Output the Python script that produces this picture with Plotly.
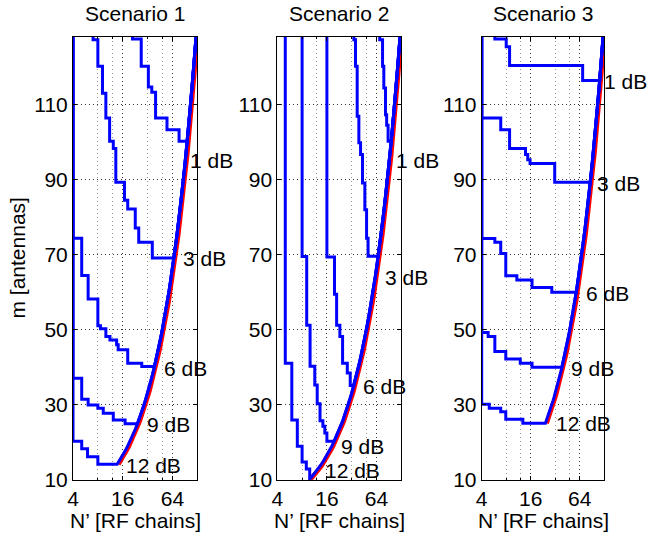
import math
import plotly.graph_objects as go

# ---------------- data ----------------
SCENARIOS = ["Scenario 1", "Scenario 2", "Scenario 3"]
LEVELS = ["1 dB", "3 dB", "6 dB", "9 dB", "12 dB"]
X_TICKS = [4, 16, 64]
X_MINOR = [8, 12, 32, 48]
Y_TICKS = [10, 30, 50, 70, 90, 110]
M_MAX = 128

# feasibility boundary N' = m (m antennas, N' RF chains)
BOUNDARY_M = list(range(10, 129))

# staircase contours: N' where the contour drops, and the m level it drops to
S1_N = [
    [21, 26.8, 32.7, 36, 40, 55, 77],
    [7, 8, 9.1, 10, 11.1, 12.3, 13.2, 16.8, 18.4, 22.7, 25, 36.5],
    [4, 5.1, 6.1, 8, 8.6, 10, 11.2, 13.5, 14.1, 18.4, 27.2],
    [4, 5.1, 6.1, 8, 9.3, 12.3, 17.1],
    [4, 5.1, 6, 8],
]
S1_M = [
    [127.5, 120.2, 114.7, 113.3, 106.4, 103.3, 100.2],
    [127.3, 120.2, 113, 106.4, 100.2, 98.3, 89.3, 84.5, 82.2, 77.1, 73.3, 69.1],
    [74.4, 64.5, 58.2, 51.1, 50.3, 48.2, 47.3, 46, 44.7, 41.1, 40.2],
    [37.1, 31.5, 30, 29.1, 27.8, 26, 25],
    [20.3, 18.3, 16.2, 14.2],
]
S2_N = [
    [70, 75.8, 78.5, 82.3, 85, 88.5],
    [34, 35.6, 37.3, 39.1, 41, 43.3, 46.2, 48.5, 50.6],
    [16, 19.8, 21, 23, 24.8, 28.3, 30.7],
    [8, 9.1, 10, 11.4, 12.2, 13.2, 14.3, 15.1, 16],
    [5, 6, 7, 8, 9, 9.9],
]
S2_M = [
    [127.3, 120.2, 114.4, 107.3, 104.5, 100.2],
    [127.3, 120.2, 106.9, 99.8, 96.7, 89.1, 82, 74.4, 69.6],
    [69.4, 59.5, 51.2, 48.2, 41.1, 38.5, 35.2],
    [69.5, 51.2, 40.3, 35.3, 30.3, 25.8, 24.3, 22.5, 20.3],
    [41.1, 26, 19, 14.8, 12.9, 10.3],
]
S3_N = [
    [5.8, 8, 8.8, 69.4],
    [4, 6.85, 8.8, 13.8, 14.7, 15.7, 31.5],
    [4, 5.8, 6.85, 7.9, 10.8, 16.6, 29],
    [4, 4.8, 5.8, 7.9, 11.9, 16.6],
    [4, 4.95, 6.85, 7.9, 12.8],
]
S3_M = [
    [127.5, 125.4, 120.4, 116.4],
    [106.4, 103.3, 98.3, 96.7, 95.3, 94.3, 89.3],
    [74.3, 73.3, 70.3, 64.4, 63.3, 61.3, 60],
    [49.3, 48.2, 44.2, 42.2, 41.1, 40],
    [30.2, 29.1, 28.2, 26.2, 25.1],
]
RED_START_M = [14.2, 10.0, 25.1]

ALL_N = [S1_N, S2_N, S3_N]
ALL_M = [S1_M, S2_M, S3_M]

# ---------------- layout geometry (page pixels) ----------------
W, H = 647, 538
OFF = 0  # page body margin removed below
X_PIX = [(73, 197.3), (277.3, 401.3), (481.7, 604.3)]
Y_TOP, Y_BOT = 37, 480
BLUE_SHIFT = 0.965  # blue contour drawn just left of the red boundary

# level label positions: (left x, centre y) in page pixels
LABEL_PIX = [
    [(188, 160), (181, 258), (162, 368), (145, 424), (124, 465)],
    [(394, 160), (383, 277), (361, 386), (339, 446), (323, 470)],
    [(602, 82), (595, 183), (584, 293), (569, 368), (554, 423)],
]

FONT = "Liberation Sans, Arial, Helvetica, sans-serif"
FS = 21
BLUE = "#0000ff"
RED = "#ff0000"


def fx(px):
    return (px - OFF) / W


def fy(py):
    return 1 - (py - OFF) / H


fig = go.Figure()

for s in range(3):
    xa = "x" if s == 0 else f"x{s+1}"
    ya = "y" if s == 0 else f"y{s+1}"
    # red boundary
    rs = RED_START_M[s]
    rx = [rs] + [b for b in BOUNDARY_M if b > rs]
    ry = list(rx)
    fig.add_trace(go.Scatter(x=rx, y=ry, mode="lines", xaxis=xa, yaxis=ya,
                             line=dict(color=RED, width=4.5), showlegend=False,
                             hoverinfo="skip"))
    for k in range(len(LEVELS)):
        Ns = ALL_N[s][k]
        Ms = ALL_M[s][k]
        px = [Ns[0]]
        py = [M_MAX]
        for i in range(len(Ns)):
            px.append(Ns[i]); py.append(Ms[i])
            if i + 1 < len(Ns):
                px.append(Ns[i + 1]); py.append(Ms[i])
        last = Ms[-1]
        px.append(max(Ns[-1], BLUE_SHIFT * last)); py.append(last)
        for b in BOUNDARY_M:
            if b > last:
                px.append(BLUE_SHIFT * b); py.append(b)
        fig.add_trace(go.Scatter(x=px, y=py, mode="lines", xaxis=xa, yaxis=ya,
                                 line=dict(color=BLUE, width=3), showlegend=False,
                                 hoverinfo="skip"))

annotations = []
grid_major = "#333333"
grid_minor = "#999999"
for s in range(3):
    x0, x1 = X_PIX[s]
    dom_x = [fx(x0), fx(x1)]
    ax_common = dict(
        showline=True, linecolor="black", linewidth=1, mirror="allticks",
        ticks="inside", ticklen=4, tickcolor="black", tickwidth=1,
        zeroline=False, showgrid=True, gridcolor=grid_major, griddash="1px,3px",
        gridwidth=1, tickfont=dict(family=FONT, size=FS, color="black"),
        automargin=False,
    )
    xkey = "xaxis" if s == 0 else f"xaxis{s+1}"
    ykey = "yaxis" if s == 0 else f"yaxis{s+1}"
    fig.layout[xkey] = dict(
        ax_common, type="log", domain=dom_x,
        range=[math.log10(4), math.log10(128)],
        tickvals=X_TICKS, ticktext=[str(v) for v in X_TICKS],
        anchor="y" if s == 0 else f"y{s+1}",
        minor=dict(tickvals=X_MINOR, ticks="inside", ticklen=2, tickcolor="black",
                   showgrid=True, gridcolor=grid_minor, griddash="1px,3px", gridwidth=1),
    )
    fig.layout[ykey] = dict(
        ax_common, domain=[fy(Y_BOT), fy(Y_TOP)], range=[10, M_MAX],
        tickvals=Y_TICKS, ticktext=[str(v) for v in Y_TICKS],
        anchor="x" if s == 0 else f"x{s+1}",
    )
    cx = fx((x0 + x1) / 2)
    annotations.append(dict(text=SCENARIOS[s], x=cx, y=fy(14), xref="paper", yref="paper",
                            showarrow=False, xanchor="center", yanchor="middle",
                            font=dict(family=FONT, size=FS, color="black")))
    annotations.append(dict(text="N’ [RF chains]", x=cx, y=fy(520), xref="paper", yref="paper",
                            showarrow=False, xanchor="center", yanchor="middle",
                            font=dict(family=FONT, size=FS, color="black")))
    for k in range(len(LEVELS)):
        lx, ly = LABEL_PIX[s][k]
        annotations.append(dict(text=LEVELS[k], x=fx(lx), y=fy(ly),
                                xref="paper", yref="paper",
                                showarrow=False, xanchor="left", yanchor="middle",
                                font=dict(family=FONT, size=FS, color="black")))

annotations.append(dict(text="m [antennas]", x=fx(17), y=fy((Y_TOP + Y_BOT) / 2),
                        xref="paper", yref="paper", showarrow=False, textangle=-90,
                        xanchor="center", yanchor="middle",
                        font=dict(family=FONT, size=FS, color="black")))

fig.update_layout(
    width=W, height=H,
    margin=dict(l=0, r=0, t=0, b=0),
    paper_bgcolor="white", plot_bgcolor="white",
    annotations=annotations,
    showlegend=False,
)

fig.write_html(
    "out.html",
    config={"displayModeBar": False},
    post_script="document.body.style.margin='0';document.body.style.overflow='hidden';",
)
